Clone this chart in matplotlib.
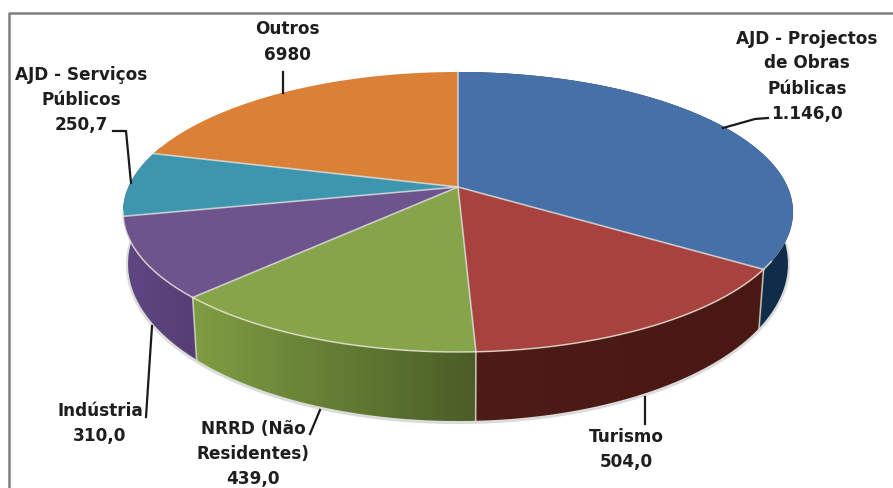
import numpy as np
import matplotlib
matplotlib.use("Agg")
import matplotlib.pyplot as plt
from matplotlib.patches import Polygon

# Data (the "6980" label stands for 698,0)
categorias = ["AJD - Projectos", "Turismo", "NRRD", "Indústria", "AJD - Serviços", "Outros"]
valores = [1146.0, 504.0, 439.0, 310.0, 250.7, 698.0]
rotulos = [
    "AJD - Projectos\nde Obras\nPúblicas\n1.146,0",
    "Turismo\n504,0",
    "NRRD (Não\nResidentes)\n439,0",
    "Indústria\n310,0",
    "AJD - Serviços\nPúblicos\n250,7",
    "Outros\n6980",
]
cores_topo = ["#4570A8", "#A8423F", "#86A44A", "#6E548D", "#3D96AE", "#DA8137"]
cores_lado_esq = ["#123A5E", "#4E1C16", "#7E9C42", "#5F4782", "#2A6A7C", "#9A5A24"]
cores_lado_dir = ["#0F2C48", "#4A1812", "#4B5E27", "#553E74", "#2A6A7C", "#9A5A24"]

pos_rotulos = [(807, 76), (626, 449), (253, 454), (100, 424), (81, 100), (287, 42)]
guias = [
    [(768, 118), (755, 119), (723, 128)],
    [(645, 424), (645, 397)],
    [(310, 434), (320, 410)],
    [(146, 417), (152, 326)],
    [(113, 131), (126, 131), (131, 183)],
    [(283, 72), (283, 93)],
]

# Perspective of the pie, in pixels of the picture
cx, cy = 458, 187
A, b, c = 329.6, -102.14, 0.1786


def topo(theta):
    # point on the upper rim for an angle in degrees
    u = np.cos(np.radians(theta))
    v = np.sin(np.radians(theta))
    w = 1 + c * v
    return cx + A * u / w, (cy + b * v) / w


def base(theta):
    # same point on the lower rim: smaller around the axis and further down
    x, y = topo(theta)
    return cx + (x - cx) * 0.985, y + 59 + (y - 270) * 10 / 82


fig = plt.figure(figsize=(8.93, 4.88), dpi=100)
ax = fig.add_axes([0, 0, 1, 1])

fracoes = np.array(valores) / np.sum(valores)
limites = 90 - 360 * np.concatenate([[0], np.cumsum(fracoes)])

# soft shadow under the lower rim
t = np.linspace(-200, 20, 200)
xb, yb = base(t)
ax.plot(xb, yb + 1, color="#999999", lw=3, alpha=0.35, zorder=1)

# Side walls, with a horizontal colour gradient. The two back slices have no
# visible wall; the purple one runs on behind the top to close the left side.
for i in range(4):
    fim = limites[i + 1] - 30 if i == 3 else limites[i + 1]
    t = np.linspace(limites[i], fim, 80)
    xt, yt = topo(t)
    xb, yb = base(t)
    contorno = np.vstack([np.c_[xt, yt], np.c_[xb, yb][::-1]])
    pol = Polygon(contorno, closed=True, fc="none", ec="none", transform=ax.transData)
    ax.add_patch(pol)
    esq = np.array(matplotlib.colors.to_rgb(cores_lado_esq[i]))
    dir_ = np.array(matplotlib.colors.to_rgb(cores_lado_dir[i]))
    grad = np.linspace(0, 1, 64)[None, :, None] * (dir_ - esq) + esq
    im = ax.imshow(grad, extent=[contorno[:, 0].min(), contorno[:, 0].max(), contorno[:, 1].max(), contorno[:, 1].min()],
                   aspect="auto", zorder=2)
    im.set_clip_path(pol)

    # light line on the wall seam
    if i < 3:
        xa, ya = topo(limites[i + 1])
        xc, yc = base(limites[i + 1])
        ax.plot([xa, xc], [ya, yc], color="#D8D8C8", lw=1.2, alpha=0.8, zorder=3)

# Top of the pie
for i in range(len(valores)):
    t = np.linspace(limites[i], limites[i + 1], 120)
    xt, yt = topo(t)
    ax.fill(np.r_[cx, xt], np.r_[cy, yt], color=cores_topo[i], lw=0, zorder=4)

for i in range(len(valores)):
    xa, ya = topo(limites[i])
    ax.plot([cx, xa], [cy, ya], color="#DDDDDD", lw=1.2, alpha=0.8, zorder=5)

# light edge on the front of the rim
t = np.linspace(-170, -30, 300)
xt, yt = topo(t)
ax.plot(xt, yt, color="#EDE6DA", lw=1.1, alpha=0.8, zorder=5)

# Labels and leader lines
for rotulo, pos, guia in zip(rotulos, pos_rotulos, guias):
    ax.text(pos[0], pos[1], rotulo, ha="center", va="center", family="DejaVu Sans",
            fontweight="bold", fontsize=12.2, linespacing=1.5, color="#1E1E1E", zorder=7)
    g = np.array(guia)
    ax.plot(g[:, 0], g[:, 1], color="#1A1A1A", lw=1.6, zorder=6)

# Frame of the original picture
ax.plot([9, 9, 893], [488, 13, 13], color="#808080", lw=1.8, zorder=8)

ax.set_xlim(0, 893)
ax.set_ylim(488, 0)
ax.axis("off")

fig.savefig("out.png", dpi=100)
